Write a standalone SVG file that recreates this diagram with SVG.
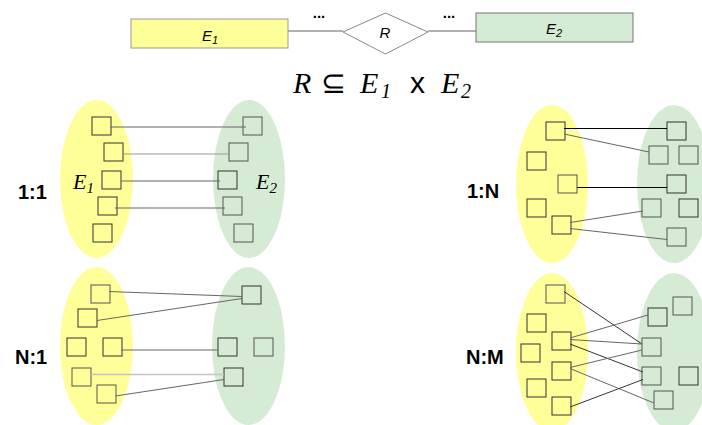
<svg xmlns="http://www.w3.org/2000/svg" xmlns:xlink="http://www.w3.org/1999/xlink" width="702" height="425" viewBox="0 0 702 425">
  <style>
    .set1 { fill: #ffff99; }
    .set2 { fill: #d6ebd4; }
    .el { fill: none; stroke: #333; stroke-width: 1; }
    .el2 { fill: none; stroke: #555; stroke-width: 1; }
    .link { stroke: #666; stroke-width: 1; fill: none; }
    .dark { stroke: #000; }
    .pale { stroke: #c4c4c4; stroke-width: 1.6; }
    .card { font-family: "Liberation Sans", Arial, sans-serif; font-weight: bold; font-size: 20px; fill: #000; }
    .math { font-family: "Liberation Serif", "Times New Roman", serif; font-style: italic; fill: #000; }
    .lbl { font-family: "Liberation Sans", Arial, sans-serif; font-style: italic; font-size: 15px; fill: #000; text-anchor: middle; }
    .dots { font-family: "Liberation Sans", Arial, sans-serif; font-weight: bold; font-size: 15px; text-anchor: middle; }
  </style>
  <defs>
    <rect id="sq" width="19" height="18"/>
  </defs>

  <!-- ER schema: E1 - R - E2 -->
  <g id="schema-links" stroke="#999" stroke-width="1.5">
    <line x1="288" y1="31" x2="343" y2="31"/>
    <line x1="428" y1="31" x2="476" y2="31"/>
  </g>
  <text class="dots" x="319" y="18">...</text>
  <text class="dots" x="449" y="18">...</text>
  <g id="entity-E1">
    <rect x="131" y="19" width="157" height="29" fill="#ffff99" stroke="#999" stroke-width="1"/>
    <text class="lbl" x="210" y="41">E<tspan font-size="11" dy="3">1</tspan></text>
  </g>
  <g id="relation-R">
    <polygon points="343,32 385.5,13 428,32 385.5,54" fill="#fff" stroke="#888" stroke-width="1"/>
    <text class="lbl" x="385" y="38">R</text>
  </g>
  <g id="entity-E2">
    <rect x="476" y="13" width="157" height="29" fill="#d6ebd4" stroke="#777" stroke-width="1"/>
    <text class="lbl" x="554" y="34">E<tspan font-size="11" dy="3">2</tspan></text>
  </g>

  <!-- R ⊆ E1 x E2 -->
  <text class="math" font-size="30" y="93"><tspan x="293">R</tspan><tspan x="321" font-style="normal">⊆</tspan><tspan x="360">E</tspan><tspan x="381" dy="5" font-size="20">1</tspan><tspan x="410" dy="-5" font-family="Liberation Sans, Arial, sans-serif" font-style="normal" font-size="30">x</tspan><tspan x="441">E</tspan><tspan x="461" dy="5" font-size="20">2</tspan></text>

  <!-- 1:1 -->
  <text class="card" x="18" y="199">1:1</text>
  <g id="s11-E1">
    <ellipse class="set1" cx="96.5" cy="179" rx="36.5" ry="79"/>
    <use href="#sq" class="el" x="92" y="117"/>
    <use href="#sq" class="el" x="104" y="143"/>
    <use href="#sq" class="el" x="102" y="171"/>
    <use href="#sq" class="el" x="98" y="197"/>
    <use href="#sq" class="el" x="93" y="224"/>
    <text class="math" font-size="22" x="73" y="189">E<tspan font-size="15" dy="4">1</tspan></text>
  </g>
  <g id="s11-E2">
    <ellipse class="set2" cx="249" cy="179" rx="36" ry="79"/>
    <use href="#sq" class="el2" x="243" y="117"/>
    <use href="#sq" class="el2" x="229" y="143"/>
    <use href="#sq" class="el" x="218" y="171"/>
    <use href="#sq" class="el2" x="223" y="197"/>
    <use href="#sq" class="el2" x="234" y="224"/>
    <text class="math" font-size="22" x="256" y="189">E<tspan font-size="15" dy="4">2</tspan></text>
  </g>
  <g id="links-11" class="link">
    <line x1="110" y1="127" x2="246" y2="127"/>
    <line x1="122" y1="154" x2="230" y2="154" stroke="#999"/>
    <line x1="121" y1="181" x2="220" y2="181"/>
    <line x1="115" y1="208" x2="225" y2="208"/>
  </g>

  <!-- 1:N -->
  <text class="card" x="467" y="198">1:N</text>
  <g id="s1N-E1">
    <ellipse class="set1" cx="552" cy="184" rx="36" ry="79"/>
    <use href="#sq" class="el" x="546" y="122"/>
    <use href="#sq" class="el" x="527" y="152"/>
    <use href="#sq" class="el2" x="558" y="175"/>
    <use href="#sq" class="el" x="527" y="199"/>
    <use href="#sq" class="el" x="552" y="216"/>
  </g>
  <g id="s1N-E2">
    <ellipse class="set2" cx="674" cy="184" rx="37" ry="79"/>
    <use href="#sq" class="el" x="667" y="122"/>
    <use href="#sq" class="el2" x="649" y="146"/>
    <use href="#sq" class="el2" x="679" y="146"/>
    <use href="#sq" class="el" x="667" y="175"/>
    <use href="#sq" class="el2" x="642" y="199"/>
    <use href="#sq" class="el" x="679" y="199"/>
    <use href="#sq" class="el2" x="667" y="228"/>
  </g>
  <g id="links-1N" class="link">
    <line class="dark" x1="564" y1="128.5" x2="667" y2="128.5"/>
    <line x1="564" y1="134" x2="649" y2="152"/>
    <line class="dark" x1="577" y1="187.5" x2="667" y2="187.5"/>
    <line x1="570" y1="222.5" x2="643" y2="211"/>
    <line x1="570" y1="228.5" x2="667" y2="239.5"/>
  </g>

  <!-- N:1 -->
  <text class="card" x="15" y="364">N:1</text>
  <g id="sN1-E1">
    <ellipse class="set1" cx="96.5" cy="346" rx="36.5" ry="79"/>
    <use href="#sq" class="el2" x="91" y="285"/>
    <use href="#sq" class="el" x="78" y="309"/>
    <use href="#sq" class="el" x="67" y="338"/>
    <use href="#sq" class="el" x="103" y="338"/>
    <use href="#sq" class="el2" x="72" y="368"/>
    <use href="#sq" class="el2" x="97" y="385"/>
  </g>
  <g id="sN1-E2">
    <ellipse class="set2" cx="248.5" cy="346" rx="36.5" ry="79"/>
    <use href="#sq" class="el" x="242" y="286"/>
    <use href="#sq" class="el" x="218" y="338"/>
    <use href="#sq" class="el2" x="254" y="338"/>
    <use href="#sq" class="el" x="224" y="368"/>
  </g>
  <g id="links-N1" class="link">
    <line x1="109" y1="291.5" x2="242" y2="296.5"/>
    <line x1="97" y1="320.5" x2="242" y2="298.5"/>
    <line x1="121.5" y1="350" x2="218" y2="350"/>
    <line class="pale" x1="91" y1="374.5" x2="224" y2="374.5"/>
    <line x1="115.5" y1="396" x2="224" y2="379.5"/>
  </g>

  <!-- N:M -->
  <text class="card" x="466" y="364">N:M</text>
  <g id="sNM-E1">
    <ellipse class="set1" cx="552" cy="352" rx="36" ry="79"/>
    <use href="#sq" class="el2" x="546" y="285"/>
    <use href="#sq" class="el" x="527" y="314"/>
    <use href="#sq" class="el" x="552" y="332"/>
    <use href="#sq" class="el" x="521" y="344"/>
    <use href="#sq" class="el" x="552" y="362"/>
    <use href="#sq" class="el" x="527" y="379"/>
    <use href="#sq" class="el" x="552" y="397"/>
  </g>
  <g id="sNM-E2">
    <ellipse class="set2" cx="674" cy="352" rx="37" ry="79"/>
    <use href="#sq" class="el2" x="673" y="297"/>
    <use href="#sq" class="el" x="648" y="308"/>
    <use href="#sq" class="el2" x="642" y="338"/>
    <use href="#sq" class="el2" x="642" y="367"/>
    <use href="#sq" class="el" x="679" y="367"/>
    <use href="#sq" class="el2" x="654" y="391"/>
  </g>
  <g id="links-NM" class="link">
    <line stroke="#333" x1="564" y1="291.5" x2="642" y2="344"/>
    <line x1="570" y1="338" x2="648" y2="315"/>
    <line x1="570" y1="339.5" x2="642" y2="344"/>
    <line stroke="#333" x1="570" y1="344" x2="643" y2="372"/>
    <line x1="570" y1="367.5" x2="642" y2="350"/>
    <line x1="570" y1="368.5" x2="654" y2="403"/>
    <line stroke="#333" x1="570" y1="407" x2="643" y2="379.5"/>
  </g>
</svg>
